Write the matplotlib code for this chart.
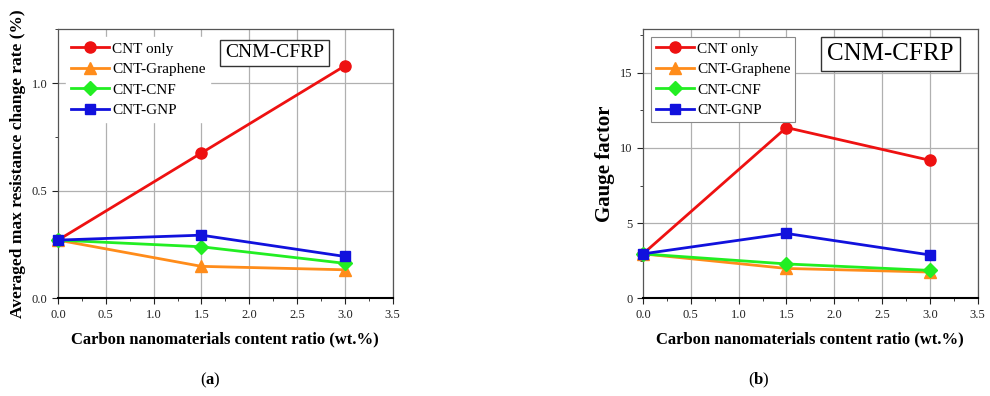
import matplotlib
matplotlib.use("Agg")
import matplotlib.pyplot as plt
from matplotlib.ticker import MultipleLocator

plt.rcParams['font.family'] = ['Liberation Serif', 'DejaVu Serif']
plt.rcParams['mathtext.fontset'] = 'custom'
plt.rcParams['mathtext.rm'] = 'Liberation Serif'
plt.rcParams['mathtext.bf'] = 'Liberation Serif:bold'

# data
content = [0.0, 1.5, 3.0]
series_names = ["CNT only", "CNT-Graphene", "CNT-CNF", "CNT-GNP"]

# (a) averaged max resistance change rate (%)
res_cnt_only = [0.27, 0.675, 1.08]
res_graphene = [0.27, 0.148, 0.132]
res_cnf = [0.27, 0.239, 0.162]
res_gnp = [0.27, 0.293, 0.194]

# (b) gauge factor
gf_cnt_only = [2.95, 11.36, 9.18]
gf_graphene = [2.95, 1.98, 1.74]
gf_cnf = [2.95, 2.28, 1.85]
gf_gnp = [2.95, 4.31, 2.88]

colors = ['#ee1111', '#ff8c1a', '#22ee22', '#1111dd']
markers = ['o', '^', 'D', 's']
msizes = [8, 8, 7, 7]

fig = plt.figure(figsize=(9.9, 3.96), dpi=100)
ax1 = fig.add_axes([0.0586, 0.247, 0.338, 0.679])
ax2 = fig.add_axes([0.6495, 0.247, 0.338, 0.679])


def draw(ax, ys, ylim, ymajor, ylabel, ylabel_size, box_xy, box_size, legend_frame):
    for y, name, c, m, ms in zip(ys, series_names, colors, markers, msizes):
        ax.plot(content, y, color=c, marker=m, markersize=ms, lw=2, label=name,
                clip_on=False, zorder=3)
    ax.set_xlim(0, 3.5)
    ax.set_ylim(*ylim)
    ax.xaxis.set_major_locator(MultipleLocator(0.5))
    ax.xaxis.set_minor_locator(MultipleLocator(0.25))
    ax.yaxis.set_major_locator(MultipleLocator(ymajor))
    ax.yaxis.set_minor_locator(MultipleLocator(ymajor / 2))
    ax.tick_params(which='both', direction='out', labelsize=9, colors='#222222',
                   top=False, right=False)
    ax.tick_params(which='major', length=4)
    ax.tick_params(which='minor', length=2.5)
    ax.grid(True, which='major', color='#b0b0b0', lw=0.9)
    ax.set_axisbelow(True)
    # no vertical grid at 0.5
    ax.xaxis.get_gridlines()[1].set_visible(False)
    for s in ax.spines.values():
        s.set_color('#555555')
        s.set_linewidth(0.9)
    ax.spines['bottom'].set_color('black')
    ax.spines['bottom'].set_linewidth(1.5)
    ax.set_xlabel("Carbon nanomaterials content ratio (wt.%)", fontsize=12,
                  fontweight='bold', labelpad=8)
    ax.set_ylabel(ylabel, fontsize=ylabel_size, fontweight='bold', labelpad=4)
    leg = ax.legend(loc='upper left', bbox_to_anchor=(0.025, 0.97), fontsize=11,
                    handlelength=2.5, handletextpad=0.2, borderpad=0.3,
                    labelspacing=0.45, borderaxespad=0.0, fancybox=False,
                    framealpha=1, frameon=True)
    if legend_frame:
        leg.get_frame().set_edgecolor('#888888')
        leg.get_frame().set_linewidth(0.8)
    else:
        leg.get_frame().set_edgecolor('white')
    ax.text(box_xy[0], box_xy[1], "CNM-CFRP", transform=ax.transAxes,
            fontsize=box_size, ha='center', va='center',
            bbox=dict(boxstyle='square,pad=0.25', fc='white', ec='#333333', lw=1))


draw(ax1, [res_cnt_only, res_graphene, res_cnf, res_gnp], (0, 1.25), 0.5,
     "Averaged max resistance change rate (%)", 12.5, (0.648, 0.912), 14, False)
draw(ax2, [gf_cnt_only, gf_graphene, gf_cnf, gf_gnp], (0, 17.9), 5,
     "Gauge factor", 15, (0.74, 0.908), 18, True)

fig.text(0.212, 0.04, r"($\mathbf{a}$)", ha='center', va='center', fontsize=12)
fig.text(0.766, 0.04, r"($\mathbf{b}$)", ha='center', va='center', fontsize=12)

fig.savefig("out.png", dpi=100)
